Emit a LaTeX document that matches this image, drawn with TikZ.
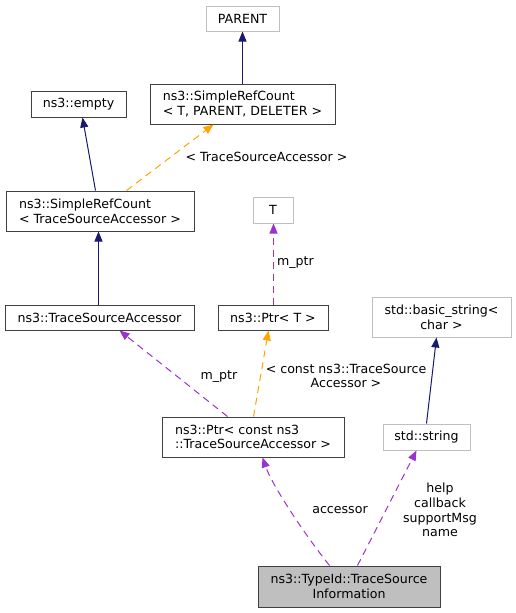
\documentclass[tikz,border=0pt]{standalone}
\usepackage{fontspec}
\setmainfont{DejaVu Sans}
\usetikzlibrary{arrows.meta}
\definecolor{navyc}{HTML}{191970}
\definecolor{purplec}{HTML}{9A32CD}
\definecolor{orangec}{HTML}{FFA500}
\definecolor{grayb}{HTML}{BFBFBF}
\definecolor{darkb}{HTML}{404040}
\tikzset{
  box/.style={draw=darkb, line width=1pt, inner sep=0pt, fill=white, text=black},
  ubox/.style={draw=grayb, line width=1pt, inner sep=0pt, fill=white, text=black},
  curbox/.style={draw=darkb, line width=1pt, inner sep=0pt, fill=grayb, text=black},
  inherit/.style={draw=navyc, line width=1pt, -{Triangle[length=10pt,width=8pt,fill=navyc]}},
  usage/.style={draw=purplec, line width=1pt, dash pattern=on 7pt off 5pt, -{Triangle[length=10pt,width=8pt,fill=purplec]}},
  templ/.style={draw=orangec, line width=1pt, dash pattern=on 7pt off 5pt, -{Triangle[length=10pt,width=8pt,fill=orangec]}},
  lbl/.style={inner sep=0pt, text=black, align=center},
}
\begin{document}
\begin{tikzpicture}[x=1pt,y=-1pt, font=\fontsize{12.6}{14.7}\selectfont]
\useasboundingbox (0,0) rectangle (516,613);
% nodes
\node[ubox, minimum width=73pt, minimum height=25pt] (parent) at (242.5,18.5) {PARENT};
\node[box, minimum width=185pt, minimum height=40pt, align=left] (srcT) at (242.5,104) {ns3::SimpleRefCount\\< T, PARENT, DELETER >};
\node[box, minimum width=95pt, minimum height=26pt] (empty) at (78.5,104) {ns3::empty};
\node[box, minimum width=188pt, minimum height=40pt, align=left] (srcTSA) at (100,211) {ns3::SimpleRefCount\\< TraceSourceAccessor >};
\node[ubox, minimum width=40pt, minimum height=26pt] (T) at (273,210) {T};
\node[box, minimum width=189pt, minimum height=25pt] (tsa) at (99.5,317.5) {ns3::TraceSourceAccessor};
\node[box, minimum width=110pt, minimum height=25pt] (ptrT) at (273,317.5) {ns3::Ptr< T >};
\node[ubox, minimum width=139pt, minimum height=40pt, align=center] (bstr) at (441.5,317) {std::basic\_string<\\char >};
\node[box, minimum width=182pt, minimum height=40pt, align=left] (ptrC) at (253,437) {ns3::Ptr< const ns3\\::TraceSourceAccessor >};
\node[ubox, minimum width=87pt, minimum height=26pt] (str) at (426.5,437) {std::string};
\node[curbox, minimum width=182pt, minimum height=41pt, align=center] (tsi) at (349,586.5) {ns3::TypeId::TraceSource\\Information};
% edges
\draw[inherit] (srcT.north) -- (parent.south);
\draw[inherit] ([xshift=90pt]srcTSA.north west) -- ([xshift=52pt]empty.south west);
\draw[templ] ([xshift=121pt]srcTSA.north west) -- ([xshift=64pt]srcT.south west);
\node[lbl] (l1) at (266.5,157) {< TraceSourceAccessor >};
\draw[inherit] ([xshift=94pt]tsa.north west) -- ([xshift=93pt]srcTSA.south west);
\draw[usage] ([xshift=0.5pt]ptrT.north) -- ([xshift=0.5pt]T.south);
\node[lbl] (l2) at (295.5,263) {m\_ptr};
\draw[usage] ([xshift=66pt]ptrC.north west) -- ([xshift=115pt]tsa.south west);
\node[lbl] (l3) at (219,377) {m\_ptr};
\draw[templ] ([xshift=92pt]ptrC.north west) -- ([xshift=51pt]ptrT.south west);
\node[lbl] (l4) at (346,376) {< const ns3::TraceSource\\Accessor >};
\draw[inherit] ([xshift=44pt]str.north west) -- ([xshift=65pt]bstr.south west);
\draw[usage] ([xshift=72pt]tsi.north west) .. controls (305,535) and (272,485) .. ([xshift=101pt]ptrC.south west);
\node[lbl] (accl) at (340,510) {accessor};
\draw[usage] ([xshift=100pt]tsi.north west) -- ([xshift=34pt]str.south west);
\node[lbl] (strl) at (440,510) {help\\callback\\supportMsg\\name};
\end{tikzpicture}
\end{document}
